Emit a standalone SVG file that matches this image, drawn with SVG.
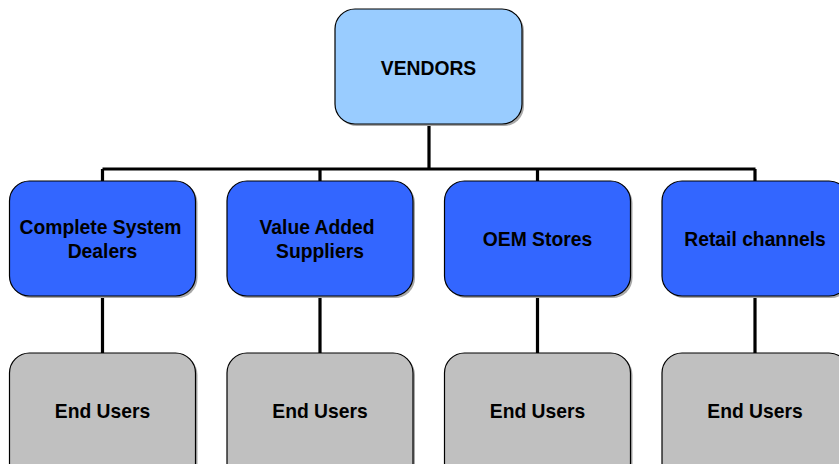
<svg xmlns="http://www.w3.org/2000/svg" width="839" height="464" viewBox="0 0 839 464">
  <style>
    .box { stroke: #000; stroke-width: 1.2; }
    .shadow { fill: #a8a8a8; }
    .top { fill: #99CCFF; }
    .mid { fill: #3366FF; }
    .end { fill: #C0C0C0; }
    .lbl { font-family: "Liberation Sans", Arial, sans-serif; font-weight: bold; font-size: 19.3px; fill: #000; text-anchor: middle; }
    .wire { stroke: #000; stroke-width: 3.2; fill: none; }
  </style>
  <rect width="839" height="464" fill="#fff"/>

  <!-- connectors -->
  <g id="connectors">
    <path class="wire" d="M429,124 V169 M102.5,169 H755.5 M102.5,169 V181 M320,169 V181 M537.5,169 V181 M755,169 V181"/>
    <path class="wire" d="M102.5,296 V353 M320,296 V353 M537.5,296 V353 M755,296 V353"/>
  </g>

  <!-- root -->
  <g id="vendors">
    <rect class="shadow" x="337" y="11" width="187" height="115" rx="20"/>
    <rect class="box top" x="335" y="9" width="187" height="115" rx="20"/>
    <text class="lbl" x="428.5" y="75">VENDORS</text>
  </g>

  <!-- channels -->
  <g id="dealers">
    <rect class="shadow" x="11.5" y="183" width="186" height="115" rx="20"/>
    <rect class="box mid" x="9.5" y="181" width="186" height="115" rx="20"/>
    <text class="lbl" x="100.5" y="234">Complete System</text>
    <text class="lbl" x="102.5" y="258">Dealers</text>
  </g>
  <g id="value-added">
    <rect class="shadow" x="229" y="183" width="186" height="115" rx="20"/>
    <rect class="box mid" x="227" y="181" width="186" height="115" rx="20"/>
    <text class="lbl" x="317" y="234">Value Added</text>
    <text class="lbl" x="320" y="258">Suppliers</text>
  </g>
  <g id="oem">
    <rect class="shadow" x="446.5" y="183" width="186" height="115" rx="20"/>
    <rect class="box mid" x="444.5" y="181" width="186" height="115" rx="20"/>
    <text class="lbl" x="537.5" y="246">OEM Stores</text>
  </g>
  <g id="retail">
    <rect class="shadow" x="664" y="183" width="187" height="115" rx="20"/>
    <rect class="box mid" x="662" y="181" width="187" height="115" rx="20"/>
    <text class="lbl" x="755" y="246">Retail channels</text>
  </g>

  <!-- end users -->
  <g id="end-users-1">
    <rect class="shadow" x="11.5" y="355" width="186" height="130" rx="20"/>
    <rect class="box end" x="9.5" y="353" width="186" height="130" rx="20"/>
    <text class="lbl" x="102.5" y="418">End Users</text>
  </g>
  <g id="end-users-2">
    <rect class="shadow" x="229" y="355" width="186" height="130" rx="20"/>
    <rect class="box end" x="227" y="353" width="186" height="130" rx="20"/>
    <text class="lbl" x="320" y="418">End Users</text>
  </g>
  <g id="end-users-3">
    <rect class="shadow" x="446.5" y="355" width="186" height="130" rx="20"/>
    <rect class="box end" x="444.5" y="353" width="186" height="130" rx="20"/>
    <text class="lbl" x="537.5" y="418">End Users</text>
  </g>
  <g id="end-users-4">
    <rect class="shadow" x="664" y="355" width="187" height="130" rx="20"/>
    <rect class="box end" x="662" y="353" width="187" height="130" rx="20"/>
    <text class="lbl" x="755" y="418">End Users</text>
  </g>
</svg>
